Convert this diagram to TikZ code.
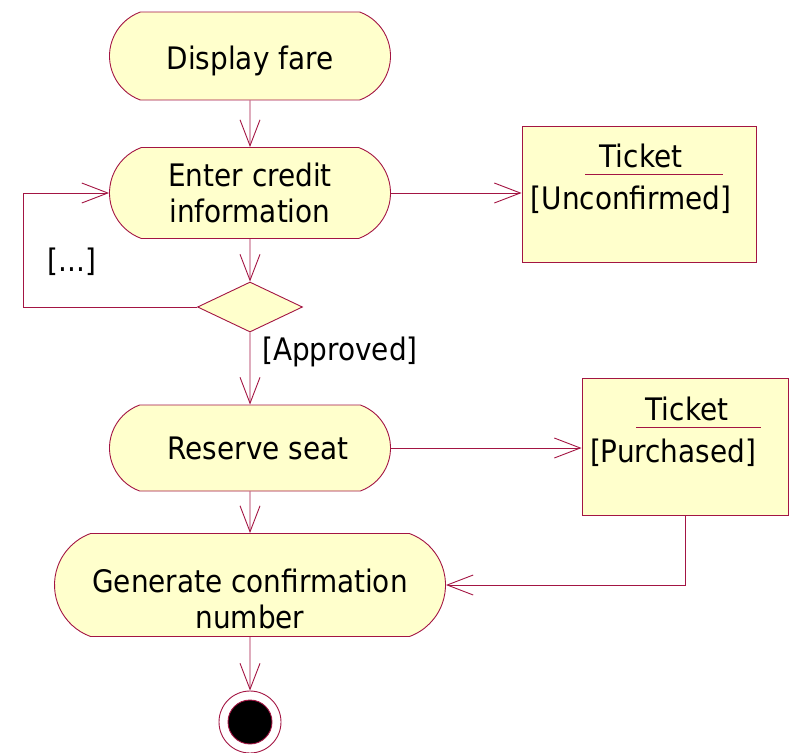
\documentclass[tikz,border=0pt]{standalone}
\usepackage{fontspec}
\setmainfont{DejaVu Sans Condensed}
\usetikzlibrary{arrows.meta,shapes.misc,shapes.geometric}
\definecolor{umlred}{RGB}{163,21,67}
\definecolor{umlfill}{RGB}{255,255,204}
\tikzset{
  activity/.style={rounded rectangle,rounded rectangle arc length=140,draw=umlred,fill=umlfill,
    line width=0.9pt,inner sep=0pt,align=center,font=\fontsize{31}{36}\selectfont},
  objbox/.style={rectangle,draw=umlred,fill=umlfill,line width=0.9pt,inner sep=0pt},
  decision/.style={diamond,draw=umlred,fill=umlfill,line width=0.9pt,inner sep=0pt,
    minimum width=105pt,minimum height=50pt},
  flow/.style={draw=umlred,line width=0.9pt,-{Straight Barb[length=26pt,width=20pt,line width=0.9pt]}},
  lbl/.style={inner sep=0pt,font=\fontsize{31}{36}\selectfont}
}
\begin{document}
\begin{tikzpicture}[x=1pt,y=-1pt]
  \useasboundingbox (0,0) rectangle (789,752);

  \node[activity,minimum width=281pt,minimum height=88pt,text height=33pt] (fare) at (250,56) {Display fare};
  \node[activity,minimum width=281pt,minimum height=91pt] (credit) at (250,193) {Enter credit\\information};
  \node[decision] (check) at (250,307) {};
  \node[activity,minimum width=281pt,minimum height=86pt] (seat) at (250,448) {\hspace*{16pt}Reserve seat};
  \node[activity,minimum width=391pt,minimum height=103pt,text height=87pt] (confirm) at (250,585) {Generate confirmation\\number};

  % final node
  \node[circle,draw=umlred,fill=white,line width=0.9pt,minimum size=62pt,inner sep=0pt] (final) at (250,722) {};
  \fill[black,draw=umlred,line width=0.9pt] (final.center) circle (22pt);

  % object nodes
  \node[objbox,minimum width=234pt,minimum height=136pt] (ticketA) at (639,194) {};
  \node[lbl] (ticketAname) at (641,156) {Ticket};
  \draw[umlred,line width=0.9pt] (585,174) -- (723,174);
  \node[lbl] (ticketAstate) at (631,200) {[Unconfirmed]};

  \node[objbox,minimum width=206pt,minimum height=137pt] (ticketB) at (685,446.5) {};
  \node[lbl] (ticketBname) at (687,409) {Ticket};
  \draw[umlred,line width=0.9pt] (636,427) -- (761,427);
  \node[lbl] (ticketBstate) at (673,453) {[Purchased]};

  % flows
  \draw[flow] (fare) -- (credit);
  \draw[flow] (credit) -- (check);
  \draw[flow] (check) -- (seat);
  \draw[flow] (seat) -- (confirm);
  \draw[flow] (confirm) -- (final);
  \draw[flow] (credit.east) -- (ticketA.west |- credit.east);
  \draw[flow] (seat.east) -- (ticketB.west |- seat.east);
  \draw[flow] (ticketB.south) |- (confirm.east);
  \coordinate (loop) at (23,307);
  \draw[flow] (check.west) -- (loop) |- (credit.west);

  \node[lbl] (retry) at (72,262) {[...]};
  \node[lbl,anchor=west] (approved) at (262,352) {[Approved]};
\end{tikzpicture}
\end{document}
